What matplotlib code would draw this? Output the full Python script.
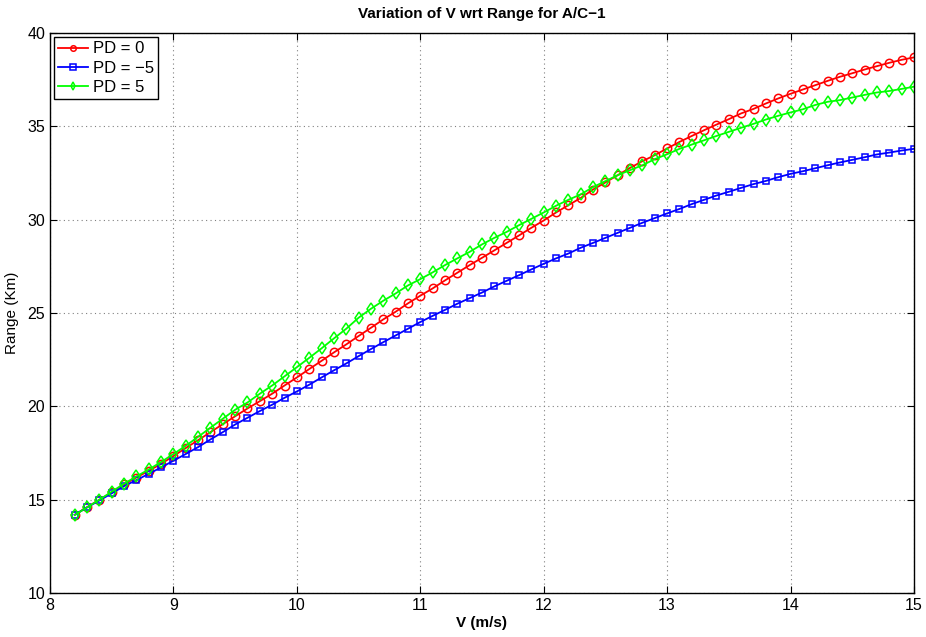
import matplotlib
matplotlib.use("Agg")
import matplotlib.pyplot as plt
import numpy as np

plt.rcParams['font.family'] = ['Liberation Sans', 'DejaVu Sans']

v = [8.2, 8.3, 8.4, 8.5, 8.6, 8.7, 8.8, 8.9, 9.0, 9.1, 9.2, 9.3, 9.4, 9.5,
     9.6, 9.7, 9.8, 9.9, 10.0, 10.1, 10.2, 10.3, 10.4, 10.5, 10.6, 10.7, 10.8, 10.9,
     11.0, 11.1, 11.2, 11.3, 11.4, 11.5, 11.6, 11.7, 11.8, 11.9, 12.0, 12.1, 12.2,
     12.3, 12.4, 12.5, 12.6, 12.7, 12.8, 12.9, 13.0, 13.1, 13.2, 13.3, 13.4, 13.5,
     13.6, 13.7, 13.8, 13.9, 14.0, 14.1, 14.2, 14.3, 14.4, 14.5, 14.6, 14.7, 14.8,
     14.9, 15.0]

range_pd0 = [14.19, 14.60, 15.00, 15.39, 15.82, 16.19, 16.55, 16.92, 17.34, 17.77,
             18.19, 18.62, 19.05, 19.47, 19.89, 20.28, 20.68, 21.12, 21.55, 22.00,
             22.44, 22.89, 23.32, 23.77, 24.21, 24.66, 25.07, 25.52, 25.93, 26.32,
             26.75, 27.16, 27.57, 27.96, 28.36, 28.76, 29.16, 29.57, 29.96, 30.39,
             30.78, 31.17, 31.62, 32.00, 32.39, 32.78, 33.14, 33.46, 33.82, 34.17,
             34.49, 34.80, 35.10, 35.39, 35.70, 35.94, 36.23, 36.50, 36.75, 36.98,
             37.21, 37.44, 37.66, 37.85, 38.05, 38.23, 38.41, 38.57, 38.70]

range_pdm5 = [14.19, 14.59, 14.96, 15.34, 15.73, 16.05, 16.39, 16.73, 17.09, 17.45,
              17.82, 18.23, 18.62, 19.03, 19.39, 19.75, 20.09, 20.46, 20.80, 21.16,
              21.55, 21.93, 22.30, 22.69, 23.07, 23.44, 23.80, 24.16, 24.52, 24.85,
              25.17, 25.50, 25.80, 26.10, 26.43, 26.73, 27.03, 27.34, 27.64, 27.93,
              28.19, 28.50, 28.76, 29.03, 29.30, 29.57, 29.84, 30.09, 30.34, 30.58,
              30.84, 31.07, 31.30, 31.50, 31.71, 31.91, 32.08, 32.28, 32.46, 32.60,
              32.76, 32.92, 33.07, 33.21, 33.35, 33.50, 33.60, 33.71, 33.80]

range_pd5 = [14.18, 14.59, 15.00, 15.43, 15.86, 16.25, 16.62, 17.02, 17.45, 17.89,
             18.37, 18.86, 19.34, 19.82, 20.21, 20.68, 21.12, 21.61, 22.10, 22.60,
             23.11, 23.64, 24.16, 24.75, 25.23, 25.66, 26.05, 26.48, 26.82, 27.18,
             27.57, 27.93, 28.28, 28.68, 29.03, 29.35, 29.71, 30.05, 30.39, 30.75,
             31.07, 31.36, 31.75, 32.07, 32.39, 32.66, 32.92, 33.25, 33.51, 33.80,
             34.03, 34.26, 34.49, 34.71, 34.93, 35.14, 35.37, 35.57, 35.75, 35.92,
             36.15, 36.32, 36.41, 36.55, 36.69, 36.82, 36.90, 37.01, 37.13]

labels = ['PD = 0', 'PD = \u22125', 'PD = 5']

fig = plt.figure(figsize=(9.26, 6.37), dpi=100)
ax = fig.add_axes([0.054, 0.069, 0.933, 0.879])

ax.plot(v, range_pd0, color='#ff0000', marker='o', mfc='none', ms=6, mew=1.1, lw=1.3, label=labels[0])
ax.plot(v, range_pdm5, color='#0000ff', marker='s', mfc='none', ms=5, mew=1.1, lw=1.3, label=labels[1])
ax.plot(v, range_pd5, color='#00ff00', marker='d', mfc='none', ms=6, mew=1.1, lw=1.3, label=labels[2])

ax.set_xlim(8, 15)
ax.set_ylim(10, 40)
ax.set_xticks(np.arange(8, 16, 1))
ax.set_yticks(np.arange(10, 41, 5))
ax.grid(True, linestyle=(0, (1, 3)), color='#808080', linewidth=0.8)
ax.tick_params(direction='in', top=True, right=True, labelsize=11.5, length=5)
for s in ax.spines.values():
    s.set_linewidth(1.0)

ax.set_title('Variation of V wrt Range for A/C\u22121', fontsize=11, fontweight='bold', pad=11)
ax.set_xlabel('V (m/s)', fontsize=11, fontweight='bold', labelpad=2)
ax.set_ylabel('Range (Km)', fontsize=11, labelpad=6)

leg = ax.legend(loc='upper left', fontsize=12, fancybox=False, framealpha=1,
                edgecolor='black', borderaxespad=0.25, handlelength=1.8,
                handletextpad=0.25, labelspacing=0.25, borderpad=0.25)
leg.get_frame().set_linewidth(1.0)
for h in leg.legend_handles:
    h.set_markersize(4)

fig.savefig('out.png', dpi=100)
